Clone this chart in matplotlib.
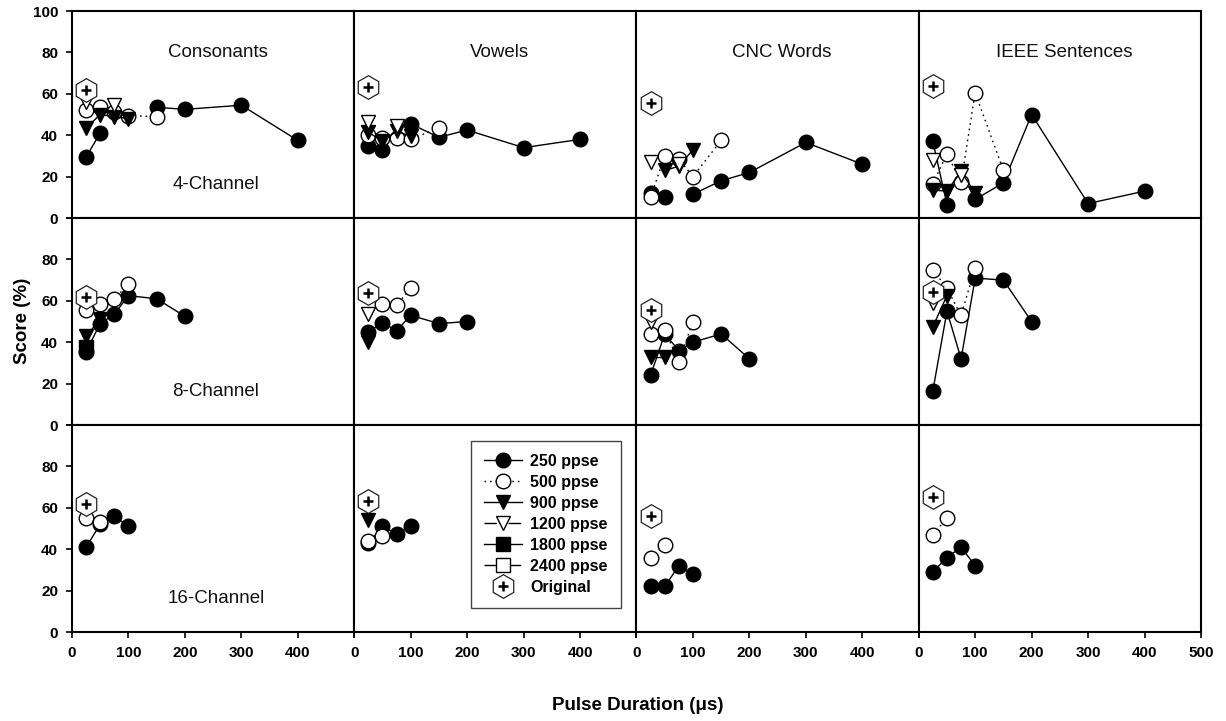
import numpy as np
import matplotlib
matplotlib.use("Agg")
import matplotlib.pyplot as plt
from matplotlib.lines import Line2D

nan = np.nan

widths = [25, 50, 75, 100, 150, 200, 300, 400]
tests = ["Consonants", "Vowels", "CNC Words", "IEEE Sentences"]
channels = ["4-Channel", "8-Channel", "16-Channel"]
rates = ["250 ppse", "500 ppse", "900 ppse", "1200 ppse", "1800 ppse", "2400 ppse"]

# score (%) per test (rows) at each pulse width, nan = condition not run
c4_250 = [
    [29.5, 41, nan, nan, 53.5, 52.5, 54.5, 37.5],
    [35, 33, nan, 45.5, 39, 42.5, 34, 38],
    [12, 10, nan, 11.5, 18, 22, 36.5, 26],
    [37, 6.5, nan, 9, 17, 50, 7, 13],
]
c4_500 = [
    [52, 53.5, 51, 49.5, 49],
    [40, 38.5, 38.5, 38, 43.5],
    [10, 30, 28.5, 20, 37.5],
    [16.5, 31, 17.5, 60.5, 23],
]
c4_900 = [
    [43.5, 50, 49, 48],
    [41.5, 37, 42, 39.5],
    [nan, 23, 25, 33],
    [13.5, 13, 22.5, 12],
]
c4_1200 = [
    [56, nan, 54.5],
    [46.5, nan, 44.5],
    [27, nan, 26],
    [28, nan, 21],
]
orig4 = [62, 63.5, 55.5, 64]

c8_250 = [
    [35.5, 49, 53.5, 62.5, 61, 52.5],
    [45, 49.5, 45.5, 53, 49, 50],
    [24, 44, 36, 40, 44, 32],
    [16.5, 55, 32, 71, 70, 50],
]
c8_500 = [
    [55.5, 58.5, 61, 68],
    [nan, 58.5, 58, 66],
    [44, 46, 30.5, 50],
    [75, 66, 53, 76],
]
c8_900 = [
    [43, 51],
    [40],
    [33, 33],
    [47.5, 62.5],
]
c8_1200 = [[], [53.5], [50], [59]]
c8_1800 = [[37.5], [], [], []]
orig8 = [62, 64, 55.5, 64.5]

c16_250 = [
    [41, 52, 56, 51],
    [43, 51, 47.5, 51],
    [22, 22, 32, 28],
    [29, 36, 41, 32],
]
c16_500 = [
    [55, 53],
    [44, 46.5],
    [36, 42],
    [47, 55],
]
c16_900 = [[], [54], [], []]
orig16 = [62, 63.5, 56, 65]

scores = {
    "4-Channel": {"250 ppse": c4_250, "500 ppse": c4_500, "900 ppse": c4_900,
                  "1200 ppse": c4_1200},
    "8-Channel": {"250 ppse": c8_250, "500 ppse": c8_500, "900 ppse": c8_900,
                  "1200 ppse": c8_1200, "1800 ppse": c8_1800},
    "16-Channel": {"250 ppse": c16_250, "500 ppse": c16_500, "900 ppse": c16_900},
}
original = {"4-Channel": orig4, "8-Channel": orig8, "16-Channel": orig16}

plt.rcParams["font.family"] = ["Liberation Sans", "DejaVu Sans"]

dotted = (0, (1.2, 2.8))
dashdot = (0, (9, 2, 1.2, 2, 1.2, 2))
ms = 10.5
styles = {
    "250 ppse": dict(marker="o", mfc="black", ls="-"),
    "500 ppse": dict(marker="o", mfc="white", ls=dotted),
    "900 ppse": dict(marker="v", mfc="black", ls="-"),
    "1200 ppse": dict(marker="v", mfc="white", ls=dashdot),
    "1800 ppse": dict(marker="s", mfc="black", ls="-", ms=9.5),
    "2400 ppse": dict(marker="s", mfc="white", ls=dashdot, ms=9.5),
}


def style_for(rate):
    st = dict(color="black", mec="black", mew=1.0, lw=1.0, ms=ms)
    st.update(styles[rate])
    return st


def draw_original(ax, y, z):
    ax.plot([25], [y], ls="none", marker="h", ms=17, mfc="white",
            mec="#222222", mew=0.9, zorder=z)
    ax.plot([25], [y], ls="none", marker="+", ms=7, mec="black",
            mew=1.8, zorder=z + 1)


fig, axes = plt.subplots(3, 4, figsize=(12.26, 7.21), dpi=100,
                         gridspec_kw=dict(hspace=0, wspace=0))
fig.subplots_adjust(left=0.0587, right=0.9796, top=0.9847, bottom=0.1234)

for r, ch in enumerate(channels):
    for c, test in enumerate(tests):
        ax = axes[r][c]
        z = 2
        for rate in rates:
            rows = scores[ch].get(rate)
            if rows is None or len(rows[c]) == 0:
                z += 1
                continue
            y = rows[c]
            ax.plot(widths[:len(y)], y, zorder=z, **style_for(rate))
            z += 1
        draw_original(ax, original[ch][c], 20)

        ax.set_xlim(0, 500)
        ax.set_ylim(0, 100)
        for sp in ax.spines.values():
            sp.set_linewidth(1.5)

        ax.set_xticks([0, 100, 200, 300, 400, 500])
        if r == 2:
            xl = ["0", "100", "200", "300", "400", "500" if c == 3 else ""]
            ax.set_xticklabels(xl, fontweight="bold", fontsize=11)
            ax.tick_params(axis="x", direction="out", length=4, width=1.2, pad=6)
        else:
            ax.tick_params(axis="x", bottom=False, labelbottom=False)

        ax.set_yticks([0, 20, 40, 60, 80, 100])
        if c == 0:
            yl = ["0", "20", "40", "60", "80", "100" if r == 0 else ""]
            ax.set_yticklabels(yl, fontweight="bold", fontsize=11)
            ax.tick_params(axis="y", direction="out", length=4, width=1.2, pad=6)
            ax.text(255, 16, ch, ha="center", va="center", fontsize=13.5,
                    color="#111111")
        else:
            ax.tick_params(axis="y", left=False, labelleft=False)

        if r == 0:
            ax.text(258, 80, test, ha="center", va="center", fontsize=13.5,
                    color="#111111")

# legend sits in the vowels / 16-channel panel
handles = [Line2D([], [], **style_for(rate)) for rate in rates]
hex_h = Line2D([], [], ls="none", marker="h", ms=17, mfc="white",
               mec="#222222", mew=0.9)
plus_h = Line2D([], [], ls="none", marker="+", ms=7, mec="black", mew=1.8)
handles.append((hex_h, plus_h))
labels = rates + ["Original"]
leg = axes[2][1].legend(handles, labels, loc="upper left",
                        bbox_to_anchor=(0.415, 0.924), borderaxespad=0,
                        prop=dict(weight="bold", size=11.5), handlelength=2.4,
                        labelspacing=0.38, handletextpad=0.5,
                        borderpad=0.8, fancybox=False, framealpha=1)
leg.get_frame().set_edgecolor("#444444")
leg.get_frame().set_linewidth(1.0)
leg.set_zorder(30)

fig.text(0.52, 0.022, "Pulse Duration (μs)", ha="center", va="center",
         fontweight="bold", fontsize=13.5)
fig.text(0.018, 0.555, "Score (%)", ha="center", va="center", rotation=90,
         fontweight="bold", fontsize=13.5)

fig.savefig("out.png", dpi=100)
